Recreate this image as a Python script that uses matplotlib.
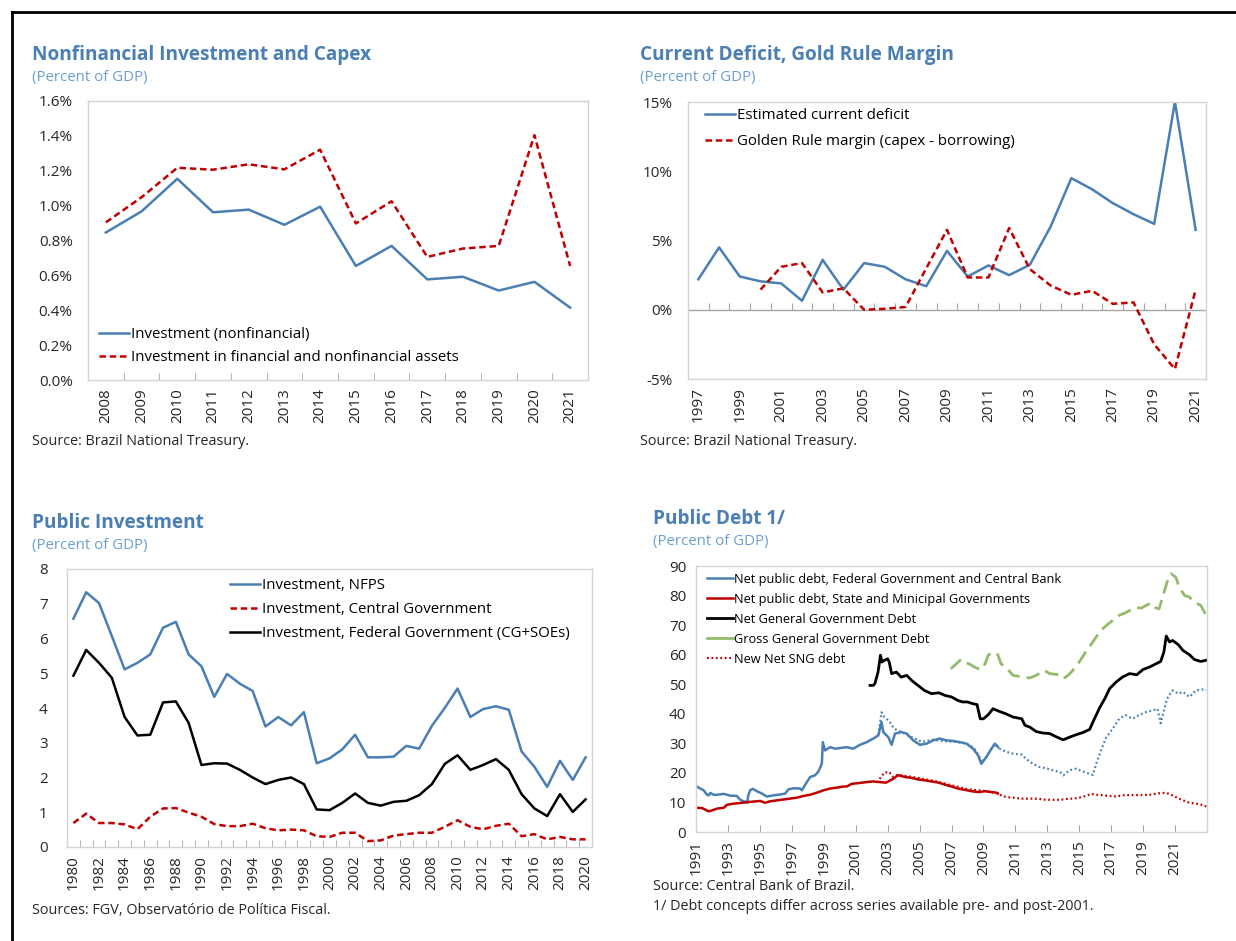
import matplotlib.pyplot as plt
from matplotlib.lines import Line2D
import numpy as np

plt.rcParams['font.family'] = ['Open Sans', 'DejaVu Sans']

# ---- panel 1: nonfinancial investment and capex (percent of GDP)
capex_years = [str(y) for y in range(2008, 2022)]
invest_nonfin = [0.846, 0.967, 1.154, 0.962, 0.977, 0.89, 0.994, 0.654, 0.769, 0.577, 0.592, 0.513, 0.563, 0.415]
invest_fin_nonfin = [0.904, 1.048, 1.217, 1.206, 1.237, 1.208, 1.321, 0.898, 1.025, 0.706, 0.754, 0.769, 1.404, 0.654]

# ---- panel 2: current deficit and golden rule margin (percent)
deficit_years = list(range(1997, 2022))
current_deficit = [2.2, 4.5, 2.4, 2.05, 1.9, 0.65, 3.6, 1.45, 3.37, 3.1, 2.2, 1.7, 4.25, 2.4, 3.2,
                   2.5, 3.25, 6.0, 9.5, 8.7, 7.7, 6.9, 6.2, 15.0, 5.77]
golden_years = list(range(2000, 2022))
golden_margin = [1.45, 3.1, 3.37, 1.25, 1.55, 0.0, 0.07, 0.2, 3.0, 5.77, 2.33, 2.33, 5.9, 2.93, 1.75,
                 1.08, 1.37, 0.43, 0.53, -2.5, -4.28, 1.45]

# ---- panel 3: public investment (percent of GDP)
pi_years = list(range(1980, 2021))
inv_nfps = [6.57, 7.33, 7.02, 6.07, 5.11, 5.30, 5.54, 6.31, 6.48, 5.54, 5.20, 4.32, 4.98, 4.70, 4.49,
            3.47, 3.74, 3.50, 3.88, 2.41, 2.55, 2.81, 3.23, 2.58, 2.58, 2.60, 2.91, 2.83, 3.49, 4.00,
            4.56, 3.74, 3.97, 4.05, 3.95, 2.75, 2.31, 1.73, 2.48, 1.93, 2.58]
inv_central = [0.69, 0.96, 0.69, 0.69, 0.65, 0.51, 0.87, 1.11, 1.12, 0.99, 0.87, 0.66, 0.60, 0.60, 0.67,
               0.54, 0.48, 0.50, 0.48, 0.31, 0.29, 0.41, 0.41, 0.17, 0.19, 0.33, 0.37, 0.41, 0.41, 0.58,
               0.77, 0.58, 0.51, 0.61, 0.67, 0.31, 0.37, 0.22, 0.29, 0.22, 0.22]
inv_federal = [4.93, 5.67, 5.30, 4.87, 3.74, 3.21, 3.23, 4.16, 4.19, 3.57, 2.36, 2.41, 2.40, 2.22, 2.00,
               1.81, 1.93, 2.00, 1.81, 1.08, 1.06, 1.27, 1.54, 1.27, 1.19, 1.30, 1.33, 1.49, 1.81, 2.39,
               2.64, 2.22, 2.36, 2.53, 2.22, 1.52, 1.11, 0.89, 1.52, 1.01, 1.37]

# ---- panel 4: public debt (percent of GDP)
fed_cb_t = [1991.00, 1991.17, 1991.27, 1991.48, 1991.69, 1991.79, 1991.90, 1992.10, 1992.31, 1992.73,
            1993.15, 1993.56, 1993.77, 1993.98, 1994.15, 1994.21, 1994.27, 1994.40, 1994.56, 1994.81,
            1995.13, 1995.44, 1995.85, 1996.27, 1996.58, 1996.79, 1997.10, 1997.52, 1997.63, 1997.94,
            1998.15, 1998.46, 1998.67, 1998.88, 1998.94, 1999.08, 1999.40, 1999.71, 2000.02, 2000.44,
            2000.85, 2001.27, 2001.69, 2002.10, 2002.42, 2002.62, 2002.73, 2003.04, 2003.25, 2003.46,
            2003.87, 2004.19, 2004.60, 2005.02, 2005.44, 2005.85, 2006.27, 2006.69, 2007.10, 2007.52,
            2007.94, 2008.35, 2008.67, 2008.87, 2009.19, 2009.50, 2009.71, 2009.92]
fed_cb = [15.6, 15.0, 14.7, 14.1, 12.6, 12.4, 13.2, 12.6, 12.6, 12.9,
          12.3, 12.2, 10.9, 10.4, 10.1, 9.9, 12.4, 14.2, 14.6, 13.8,
          13.0, 12.0, 12.4, 12.7, 13.0, 14.4, 14.8, 14.7, 14.1, 16.9,
          18.6, 19.2, 20.5, 23.1, 30.4, 27.6, 28.7, 28.2, 28.4, 28.7,
          28.2, 29.5, 30.4, 31.6, 32.7, 37.2, 33.8, 32.1, 29.5, 33.3,
          33.8, 33.3, 31.0, 29.5, 29.9, 31.0, 31.6, 31.0, 30.8, 30.4,
          29.9, 28.2, 25.9, 23.1, 25.4, 28.2, 29.9, 28.7]

fed_new_t = [2002.42, 2002.62, 2002.80, 2003.10, 2003.40, 2003.85, 2004.50, 2005.15, 2005.80, 2006.50,
             2007.20, 2007.90, 2008.40, 2008.70, 2008.87, 2009.20, 2009.55, 2009.75, 2010.00, 2010.44,
             2010.85, 2011.40, 2011.70, 2012.10, 2012.50, 2012.90, 2013.35, 2013.80, 2014.00, 2014.40,
             2014.80, 2015.20, 2015.65, 2015.85, 2016.10, 2016.40, 2016.70, 2017.10, 2017.50, 2017.90,
             2018.35, 2018.80, 2019.20, 2019.60, 2019.90, 2020.10, 2020.25, 2020.50, 2020.85, 2021.20,
             2021.50, 2021.90, 2022.30, 2022.85, 2022.95]
fed_new = [32.9, 40.5, 38.9, 37.5, 35.0, 33.8, 32.1, 30.5, 31.2, 30.8,
           30.5, 30.0, 28.5, 26.0, 23.5, 25.6, 28.5, 29.7, 28.2, 27.1,
           26.5, 26.2, 24.6, 23.1, 22.0, 21.6, 20.9, 20.3, 19.2, 20.9,
           21.4, 20.5, 19.7, 19.3, 23.7, 28.2, 32.1, 35.0, 38.3, 39.5,
           38.3, 39.7, 40.6, 41.2, 41.7, 36.8, 40.0, 45.1, 47.9, 46.8,
           47.4, 45.7, 47.9, 48.3, 48.0]

sng_t = [1991.00, 1991.38, 1991.79, 1992.00, 1992.31, 1992.73, 1992.94, 1993.35, 1993.77, 1994.19,
         1994.60, 1995.02, 1995.33, 1995.65, 1996.06, 1996.48, 1996.90, 1997.31, 1997.73, 1998.15,
         1998.56, 1998.98, 1999.40, 1999.81, 2000.23, 2000.44, 2000.75, 2001.27, 2001.69, 2002.10,
         2002.50, 2002.90, 2003.35, 2003.65, 2004.10, 2004.50, 2004.90, 2005.30, 2005.75, 2006.20,
         2006.60, 2007.00, 2007.40, 2007.80, 2008.25, 2008.70, 2009.10, 2009.50, 2009.80, 2009.90]
sng = [8.2, 8.1, 7.0, 7.3, 7.9, 8.2, 9.2, 9.6, 9.8, 10.1,
       10.3, 10.5, 9.9, 10.4, 10.7, 11.0, 11.3, 11.6, 12.2, 12.6,
       13.3, 14.1, 14.7, 15.0, 15.4, 15.4, 16.3, 16.6, 16.9, 17.1,
       16.9, 16.7, 18.0, 19.2, 18.6, 18.3, 17.8, 17.5, 17.1, 16.7,
       16.0, 15.4, 14.7, 14.3, 13.8, 13.5, 13.8, 13.5, 13.3, 13.0]

net_gg_t = [2001.90, 2002.10, 2002.20, 2002.40, 2002.55, 2002.65, 2002.80, 2003.00, 2003.10, 2003.25,
            2003.55, 2003.85, 2004.20, 2004.50, 2004.90, 2005.30, 2005.75, 2006.20, 2006.60, 2007.00,
            2007.40, 2007.70, 2008.00, 2008.35, 2008.60, 2008.80, 2009.00, 2009.30, 2009.60, 2010.00,
            2010.40, 2010.85, 2011.40, 2011.60, 2011.90, 2012.30, 2012.70, 2013.15, 2013.60, 2014.00,
            2014.40, 2014.80, 2015.20, 2015.65, 2015.95, 2016.30, 2016.60, 2016.90, 2017.30, 2017.70,
            2018.15, 2018.60, 2019.00, 2019.40, 2019.80, 2020.10, 2020.30, 2020.45, 2020.65, 2020.85,
            2021.20, 2021.50, 2021.90, 2022.20, 2022.60, 2022.95]
net_gg = [49.6, 49.6, 50.2, 54.1, 59.8, 57.5, 58.1, 58.6, 57.5, 53.6,
          54.1, 52.4, 53.0, 51.3, 49.6, 47.9, 46.8, 47.1, 46.2, 45.7,
          44.5, 44.0, 44.0, 43.4, 43.1, 38.3, 38.3, 39.7, 41.7, 40.8,
          40.0, 38.9, 38.3, 36.1, 35.5, 34.0, 33.5, 33.3, 32.1, 31.2,
          32.1, 32.9, 33.6, 34.7, 38.3, 42.3, 45.1, 48.5, 50.7, 52.4,
          53.6, 53.2, 55.0, 55.8, 56.9, 57.7, 60.9, 66.3, 64.3, 64.8,
          63.4, 61.4, 60.0, 58.4, 57.7, 58.1]

gross_gg_t = [2006.95, 2007.30, 2007.60, 2007.80, 2008.10, 2008.45, 2008.80, 2009.10, 2009.30, 2009.60,
              2009.90, 2010.10, 2010.40, 2010.85, 2011.30, 2011.90, 2012.30, 2012.80, 2013.15, 2013.60,
              2014.00, 2014.30, 2014.60, 2015.00, 2015.40, 2015.85, 2016.30, 2016.70, 2017.10, 2017.50,
              2017.90, 2018.50, 2018.90, 2019.20, 2019.50, 2019.80, 2020.00, 2020.25, 2020.50, 2020.75,
              2021.05, 2021.25, 2021.60, 2021.90, 2022.20, 2022.60, 2022.95]
gross_gg = [55.2, 56.9, 58.4, 57.5, 56.9, 55.8, 54.9, 56.9, 59.8, 60.9,
            60.0, 56.9, 55.8, 53.0, 52.6, 52.1, 53.0, 54.7, 53.6, 53.3,
            51.9, 53.0, 54.7, 57.5, 60.9, 64.3, 67.9, 69.9, 71.6, 73.3,
            74.2, 75.9, 75.8, 76.7, 77.5, 75.8, 75.5, 80.0, 84.6, 87.4,
            86.2, 82.9, 80.0, 79.5, 77.8, 76.7, 73.3]

new_sng_t = [2002.50, 2002.80, 2003.10, 2003.35, 2003.65, 2004.10, 2005.00, 2006.00, 2007.00, 2008.00,
             2009.00, 2009.90, 2010.00, 2010.44, 2010.85, 2011.40, 2011.70, 2012.10, 2012.50, 2012.90,
             2013.35, 2013.80, 2014.20, 2014.60, 2015.00, 2015.40, 2015.75, 2016.10, 2016.50, 2016.90,
             2017.30, 2017.70, 2018.15, 2018.60, 2019.00, 2019.40, 2019.80, 2020.10, 2020.45, 2020.75,
             2021.05, 2021.50, 2021.90, 2022.30, 2022.85, 2022.95]
new_sng = [18.0, 20.1, 20.3, 18.6, 19.4, 19.0, 18.2, 17.2, 15.8, 14.5,
           13.9, 13.2, 12.6, 11.8, 11.6, 11.3, 11.3, 11.3, 11.2, 10.9,
           10.9, 10.9, 11.2, 11.3, 11.6, 12.2, 12.9, 12.6, 12.4, 12.2,
           12.0, 12.4, 12.5, 12.5, 12.5, 12.6, 12.9, 13.2, 13.2, 12.6,
           11.8, 10.7, 9.9, 9.6, 9.0, 8.5]

BLUE = '#4a7fb3'
RED = '#c00000'
GREEN = '#93bb6c'
TITLE = '#4a7fb3'
SUB = '#6b9fd1'
FRAME = '#d4d4d4'
TXT = '#262626'

W, H = 1236, 941
fig = plt.figure(figsize=(W / 100, H / 100), dpi=100)


def px_axes(left, top, right, bottom):
    return fig.add_axes([left / W, 1 - bottom / H, (right - left) / W, (bottom - top) / H])


def header(x, y, title, sub):
    fig.text(x / W, 1 - y / H, title, fontsize=13.7, fontweight='bold', color=TITLE, va='center')
    fig.text(x / W, 1 - (y + 23) / H, sub, fontsize=10.8, color=SUB, va='center')


def note(x, y, s):
    fig.text(x / W, 1 - y / H, s, fontsize=10.4, color=TXT, va='center')


def frame(ax, ypad):
    for s in ax.spines.values():
        s.set_color(FRAME)
        s.set_linewidth(1.0)
    ax.tick_params(axis='y', length=0, labelsize=11, labelcolor=TXT, pad=ypad)
    ax.tick_params(axis='x', labelsize=11, labelcolor=TXT)


# ---------------- panel 1
ax1 = px_axes(88, 101, 588, 380)
x1 = np.arange(len(capex_years))
ax1.plot(x1, invest_nonfin, color=BLUE, lw=1.8, label='Investment (nonfinancial)')
ax1.plot(x1, invest_fin_nonfin, color=RED, lw=1.8, ls=(0, (2.6, 1.5)),
         label='Investment in financial and nonfinancial assets')
ax1.set_xlim(-0.5, len(capex_years) - 0.5)
ax1.set_ylim(0, 1.6)
ax1.set_yticks(np.arange(0, 1.61, 0.2))
ax1.set_yticklabels([f'{v:.1f}%' for v in np.arange(0, 1.61, 0.2)])
ax1.set_xticks(x1)
ax1.set_xticklabels(capex_years, rotation=90)
ax1.set_xticks(x1[:-1] + 0.5, minor=True)
frame(ax1, 11)
ax1.tick_params(axis='x', which='major', length=0, pad=6)
ax1.tick_params(axis='x', which='minor', direction='in', length=5, color='#a6a6a6')
ax1.legend(loc='lower left', bbox_to_anchor=(0.0, 0.015), frameon=False, fontsize=10.8,
           handlelength=2.0, handletextpad=0.15, labelspacing=0.55, borderaxespad=0.3)
header(32, 55, 'Nonfinancial Investment and Capex', '(Percent of GDP)')
note(32, 441, 'Source: Brazil National Treasury.')

# ---------------- panel 2
ax2 = px_axes(688, 102, 1206, 379)
ax2.plot(deficit_years, current_deficit, color=BLUE, lw=1.8, label='Estimated current deficit')
ax2.plot(golden_years, golden_margin, color=RED, lw=1.8, ls=(0, (2.6, 1.5)),
         label='Golden Rule margin (capex - borrowing)')
ax2.set_xlim(deficit_years[0] - 0.5, deficit_years[-1] + 0.5)
ax2.set_ylim(-5, 15)
ax2.set_yticks([-5, 0, 5, 10, 15])
ax2.set_yticklabels(['-5%', '0%', '5%', '10%', '15%'])
ax2.set_xticks(deficit_years[::2])
ax2.set_xticklabels([str(y) for y in deficit_years[::2]], rotation=90)
frame(ax2, 11)
ax2.tick_params(axis='x', length=0, pad=6)
ax2.axhline(0, color='#a6a6a6', lw=1.0, zorder=1)
zero_pos = (0 - (-5)) / 20
sec = ax2.secondary_xaxis(zero_pos)
sec.set_xticks(np.array(deficit_years[:-1]) + 0.5)
sec.tick_params(direction='in', length=5, color='#a6a6a6', labelbottom=False)
sec.spines['bottom'].set_visible(False)
ax2.legend(loc='upper left', bbox_to_anchor=(0.013, 1.015), frameon=False, fontsize=10.8,
           handlelength=2.0, handletextpad=0.15, labelspacing=0.7, borderaxespad=0.3)
header(640, 55, 'Current Deficit, Gold Rule Margin', '(Percent of GDP)')
note(640, 441, 'Source: Brazil National Treasury.')

# ---------------- panel 3
ax3 = px_axes(67, 569, 592, 847)
ax3.plot(pi_years, inv_nfps, color=BLUE, lw=1.8, label='Investment, NFPS')
ax3.plot(pi_years, inv_central, color=RED, lw=1.8, ls=(0, (2.6, 1.5)), label='Investment, Central Government')
ax3.plot(pi_years, inv_federal, color='black', lw=1.8, label='Investment, Federal Government (CG+SOEs)')
ax3.set_xlim(pi_years[0] - 0.5, pi_years[-1] + 0.5)
ax3.set_ylim(0, 8)
ax3.set_yticks(range(0, 9))
ax3.set_xticks(pi_years[::2])
ax3.set_xticklabels([str(y) for y in pi_years[::2]], rotation=90)
ax3.set_xticks(np.array(pi_years[:-1]) + 0.5, minor=True)
frame(ax3, 14)
ax3.tick_params(axis='x', which='major', length=0, pad=6)
ax3.tick_params(axis='x', which='minor', direction='in', length=5, color='#a6a6a6')
ax3.legend(loc='upper left', bbox_to_anchor=(0.29, 1.005), frameon=False, fontsize=10.8,
           handlelength=2.0, handletextpad=0.15, labelspacing=0.6, borderaxespad=0.3)
header(32, 523, 'Public Investment', '(Percent of GDP)')
note(32, 910, 'Sources: FGV, Observatório de Política Fiscal.')

# ---------------- panel 4
ax4 = px_axes(696, 566, 1207, 832)
ax4.plot(fed_cb_t, fed_cb, color=BLUE, lw=1.8, label='Net public debt, Federal Government and Central Bank')
ax4.plot(sng_t, sng, color=RED, lw=1.8, label='Net public debt, State and Minicipal Governments')
ax4.plot(net_gg_t, net_gg, color='black', lw=2.0, label='Net General Government Debt')
ax4.plot(gross_gg_t, gross_gg, color=GREEN, lw=2.0, ls=(0, (5, 2.5)), label='Gross General Government Debt')
ax4.plot(new_sng_t, new_sng, color=RED, lw=1.6, ls=(0, (0.8, 1.2)), label='New Net SNG debt')
ax4.plot(fed_new_t, fed_new, color=BLUE, lw=1.6, ls=(0, (0.8, 1.2)))
ax4.set_xlim(1991, 2023)
ax4.set_ylim(0, 90)
ax4.set_yticks(range(0, 91, 10))
tick_years = list(range(1991, 2022, 2))
ax4.set_xticks(tick_years)
ax4.set_xticklabels([str(y) for y in tick_years], rotation=90)
frame(ax4, 7)
ax4.tick_params(axis='x', direction='in', length=5, color='#a6a6a6', pad=6)
handles, labels = ax4.get_legend_handles_labels()
handles[3] = Line2D([], [], color=GREEN, lw=2.0)
handles[4] = Line2D([], [], color=RED, lw=1.6, ls=(0, (0.8, 1.2)))
ax4.legend(handles, labels, loc='upper left', bbox_to_anchor=(0.004, 1.008), frameon=False, fontsize=9.2,
           handlelength=2.0, handletextpad=0.15, labelspacing=0.55, borderaxespad=0.3)
header(653, 519, 'Public Debt 1/', '(Percent of GDP)')
note(653, 887, 'Source: Central Bank of Brazil.')
note(653, 907, '1/ Debt concepts differ across series available pre- and post-2001.')

# outer border (top and left only)
fig.add_artist(Line2D([12 / W, 1], [1 - 12 / H, 1 - 12 / H], color='black', lw=2))
fig.add_artist(Line2D([12 / W, 12 / W], [0, 1 - 12 / H], color='black', lw=2))

fig.savefig('out.png', dpi=100)
